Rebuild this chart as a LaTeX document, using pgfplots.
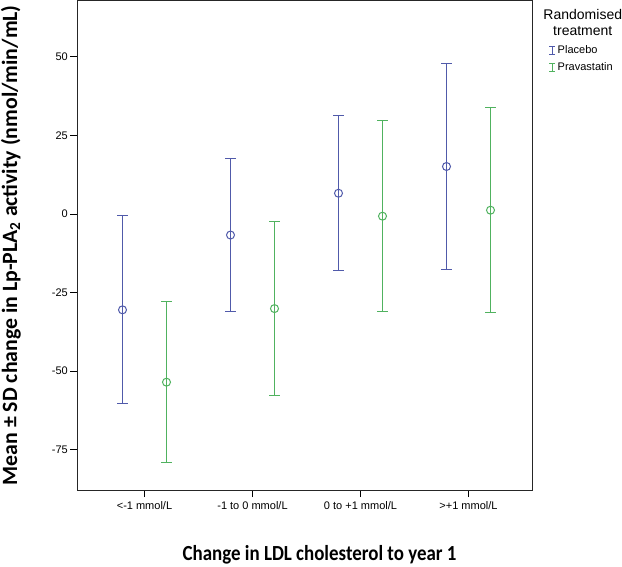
\documentclass[border=0pt]{standalone}
\usepackage{pgfplots}
\pgfplotsset{compat=1.18}
\usepackage{pgfplotstable}
\usepackage{fontspec}
\setmainfont{Liberation Sans}
\newfontfamily\labfont{Carlito}
\definecolor{placebo}{RGB}{80,90,170}
\definecolor{prava}{RGB}{80,178,95}

\pgfplotstableread{
x mean sd
-0.2037 -30.5 29.9
0.7963 -6.7 24.3
1.7963 6.6 24.6
2.7963 15.1 32.9
}\placebo
\pgfplotstableread{
x mean sd
0.2037 -53.5 25.7
1.2037 -30.1 27.7
2.2037 -0.7 30.3
3.2037 1.2 32.7
}\prava

\pgfplotsset{
  ebimage/.style={legend image code/.code={
    \draw[line width=0.9pt] (3pt,-4pt) -- (3pt,4pt);
    \draw[line width=0.9pt] (0pt,4pt) -- (6pt,4pt);
    \draw[line width=0.9pt] (0pt,-4pt) -- (6pt,-4pt);
  }},
}

\begin{document}
\begin{tikzpicture}
\useasboundingbox (0,0) rectangle (622pt,566pt);
\begin{axis}[
  at={(77.3pt,76pt)}, anchor=south west,
  width=455.4pt, height=489.5pt, scale only axis,
  xmin=-0.6222, xmax=3.5944, ymin=-87.8, ymax=67.9,
  xtick={0,1,2,3},
  xticklabels={{<-1 mmol/L},{-1 to 0 mmol/L},{0 to +1 mmol/L},{>+1 mmol/L}},
  ytick={-75,-50,-25,0,25,50},
  tick align=outside, xtick pos=bottom, ytick pos=left,
  major tick length=7pt,
  tick style={black, line width=0.8pt},
  axis line style={line width=0.9pt, black!85},
  /pgf/number format/assume math mode=true,
  ticklabel style={font=\fontsize{11}{13}\selectfont},
  yticklabel style={xshift=1pt},
  xticklabel style={yshift=-1pt},
  xlabel={\labfont\bfseries \scalebox{0.88}[1]{Change in LDL cholesterol to year 1}},
  xlabel style={at={(axis description cs:0.532,-0.1444)}, anchor=base, font=\fontsize{21.5}{24}\selectfont},
  ylabel={\labfont\bfseries Mean ± SD change in Lp-PLA\textsubscript{2} activity (nmol/min/mL)},
  ylabel style={at={(axis description cs:-0.146,0.5)}, anchor=center, rotate=0, font=\fontsize{21.8}{25}\selectfont},
  legend style={at={(axis description cs:1.035,0.912)}, anchor=north west, draw=none, fill=none,
    font=\fontsize{11}{13}\selectfont, row sep=3pt, inner sep=0pt,
    /tikz/every even column/.append style={column sep=2pt}},
  legend cell align=left,
  clip=false,
]
\addplot[only marks, color=placebo, mark=o, mark size=4pt, mark options={line width=1pt}, ebimage,
  error bars/.cd, y dir=both, y explicit,
  error bar style={line width=1pt, color=placebo},
  error mark options={rotate=90, mark size=5.3pt, line width=1pt, color=placebo}]
  table[x=x, y=mean, y error=sd] {\placebo};
\addlegendentry{Placebo}
\addplot[only marks, color=prava, mark=o, mark size=4pt, mark options={line width=1pt}, ebimage,
  error bars/.cd, y dir=both, y explicit,
  error bar style={line width=1pt, color=prava},
  error mark options={rotate=90, mark size=5.3pt, line width=1pt, color=prava}]
  table[x=x, y=mean, y error=sd] {\prava};
\addlegendentry{Pravastatin}
\node[align=center, font=\fontsize{14}{15.5}\selectfont, anchor=center] at (axis description cs:1.11,0.955) {Randomised\\treatment};
\end{axis}
\end{tikzpicture}
\end{document}
